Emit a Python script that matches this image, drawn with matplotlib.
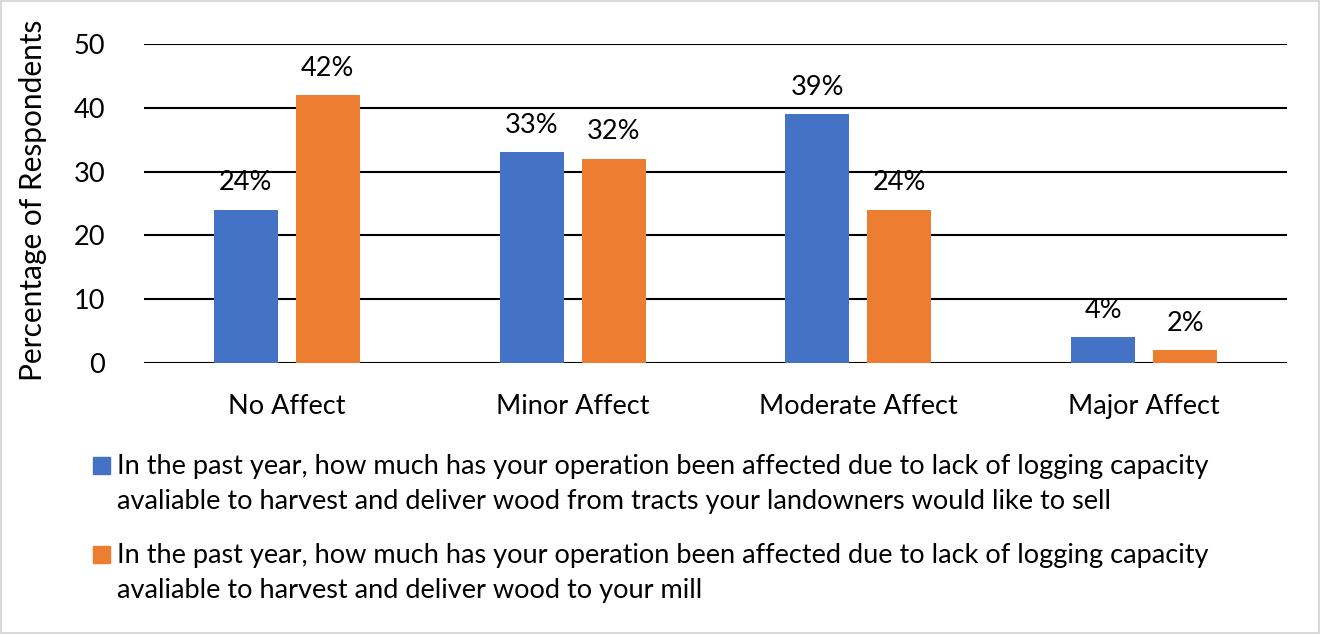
import numpy as np
import matplotlib.pyplot as plt
from matplotlib.patches import Rectangle

# Datos
categorias = ['No Affect', 'Minor Affect', 'Moderate Affect', 'Major Affect']
tratos = [24, 33, 39, 4]
molino = [42, 32, 24, 2]
leyendas = [
    ['In the past year, how much has your operation been affected due to lack of logging capacity',
     'avaliable to harvest and deliver wood from tracts your landowners would like to sell'],
    ['In the past year, how much has your operation been affected due to lack of logging capacity',
     'avaliable to harvest and deliver wood to your mill'],
]
colores = ['#4472C4', '#ED7D31']

plt.rcParams['font.family'] = ['Lato', 'DejaVu Sans']
FS = 19.5

W, H = 1320, 634
fig = plt.figure(figsize=(W / 100, H / 100), dpi=100)
ax = fig.add_axes([144 / W, 1 - 363 / H, 1143 / W, 319 / H])

x = np.arange(len(categorias))
ancho = 0.224
sep = 0.063
desp = (ancho + sep) / 2

b1 = ax.bar(x - desp, tratos, ancho, color=colores[0], zorder=3)
b2 = ax.bar(x + desp, molino, ancho, color=colores[1], zorder=3)

# Etiquetas de porcentaje sobre cada barra
for barras in (b1, b2):
    for b in barras:
        h = b.get_height()
        ax.annotate(f'{h:.0f}%', (b.get_x() + b.get_width() / 2, h),
                    xytext=(0, 14), textcoords='offset points',
                    ha='center', va='baseline', fontsize=FS, zorder=4)

ax.set_xlim(-0.5, len(categorias) - 0.5)
ax.set_ylim(0, 50)
ax.set_yticks(range(0, 51, 10))
ax.yaxis.grid(True, color='black', linewidth=1.5, zorder=1)
ax.set_axisbelow(True)
for s in ax.spines.values():
    s.set_visible(False)
ax.tick_params(length=0, labelsize=FS)
ax.tick_params(axis='x', pad=22)
ax.tick_params(axis='y', pad=28)
ax.set_xticks(x)
ax.set_xticklabels(categorias)
ax.set_ylabel('Percentage of Respondents', fontsize=21.5)
ax.yaxis.set_label_coords(47 / W, 1 - 200 / H, transform=fig.transFigure)

# Leyenda manual debajo del gráfico (coordenadas en píxeles de la figura)
for i, (lineas, c) in enumerate(zip(leyendas, colores)):
    base = 474 + i * 89
    fig.patches.append(Rectangle((93 / W, 1 - base / H), 17 / W, 17 / H,
                                 transform=fig.transFigure, color=c))
    for j, linea in enumerate(lineas):
        fig.text(117 / W, 1 - (base + 35 * j) / H, linea, fontsize=FS,
                 va='baseline', ha='left')

# Marco gris alrededor de la figura
fig.patches.append(Rectangle((0.001, 0.002), 0.998, 0.996, transform=fig.transFigure,
                             fill=False, edgecolor='#d9d9d9', linewidth=1.5))

fig.savefig('out.png', dpi=100)
